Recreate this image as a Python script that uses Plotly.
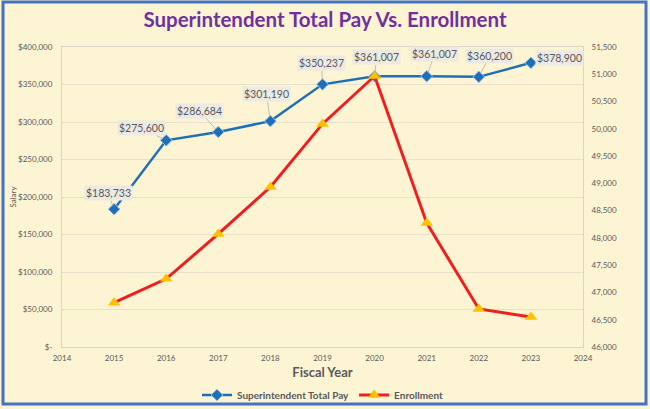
import plotly.graph_objects as go

years = [2015, 2016, 2017, 2018, 2019, 2020, 2021, 2022, 2023]
salary = [183733, 275600, 286684, 301190, 350237, 361007, 361007, 360200, 378900]
enrollment = [46812, 47250, 48072, 48933, 50090, 50968, 48275, 46697, 46550]

salary_ticks = [0, 50000, 100000, 150000, 200000, 250000, 300000, 350000, 400000]
salary_ticktext = ["$-", "$50,000", "$100,000", "$150,000", "$200,000", "$250,000",
                   "$300,000", "$350,000", "$400,000"]
enroll_ticks = list(range(46000, 51501, 500))
enroll_ticktext = [f"{v:,}" for v in enroll_ticks]
year_ticks = list(range(2014, 2025))

# label offsets (px) for the data callouts
label_ax = [-6, -25, -19, -4, -1, 2, 8, 11, 29]
label_ay = [-16, -12, -21, -27, -21, -19, -22, -21, -5]

FONT = "Lato"
GRAY = "#595959"
BG = "#FDF4D4"

fig = go.Figure()
fig.add_trace(go.Scatter(
    x=years, y=salary, name="<b>Superintendent Total Pay</b>", mode="lines+markers",
    line=dict(color="#1F6FB8", width=2.5),
    marker=dict(symbol="diamond", size=9, color="#1F6FB8",
                line=dict(color="#9CC3E6", width=1)),
    yaxis="y"))
fig.add_trace(go.Scatter(
    x=years, y=enrollment, name="<b>Enrollment</b>", mode="lines+markers",
    line=dict(color="#F01E1E", width=3),
    marker=dict(symbol="triangle-up", size=11, color="#FFC000"),
    yaxis="y2"))

annotations = []
for x, y, ax, ay in zip(years, salary, label_ax, label_ay):
    annotations.append(dict(
        x=x, y=y, xref="x", yref="y", text=f"${y:,}",
        showarrow=True, arrowhead=0, arrowwidth=0.7, arrowcolor="#A6A6A6",
        ax=ax, ay=ay, standoff=4,
        bgcolor="#ECEAE2", borderpad=1,
        font=dict(family=FONT, size=10.5, color=GRAY)))

fig.update_layout(
    width=650, height=409,
    margin=dict(l=62, r=67, t=47, b=62),
    paper_bgcolor=BG, plot_bgcolor=BG,
    title=dict(text="<b>Superintendent Total Pay Vs. Enrollment</b>",
               x=0.5, xanchor="center", y=0.951, yanchor="middle",
               font=dict(family=FONT, size=20.5, color="#7030A0")),
    font=dict(family=FONT, color=GRAY),
    xaxis=dict(range=[2014, 2024], tickvals=year_ticks,
               tickfont=dict(size=8, color=GRAY), automargin=False,
               ticklabelstandoff=3,
               showgrid=False, zeroline=False,
               showline=True, linecolor="#D9D6C8", mirror=True,
               title=dict(text="<b>Fiscal Year</b>", standoff=8,
                          font=dict(family=FONT, size=13, color=GRAY))),
    yaxis=dict(range=[0, 400000], tickvals=salary_ticks, ticktext=salary_ticktext,
               tickfont=dict(size=8, color=GRAY), automargin=False,
               ticklabelstandoff=7,
               showgrid=True, gridcolor="#E6E1CC", gridwidth=1, zeroline=False,
               showline=True, linecolor="#D9D6C8", ticks="", ticklen=0,
               title=dict(text="Salary", standoff=0,
                          font=dict(family=FONT, size=8, color=GRAY))),
    yaxis2=dict(range=[46000, 51500], tickvals=enroll_ticks, ticktext=enroll_ticktext,
                overlaying="y", side="right", automargin=False,
                ticklabelstandoff=6,
                tickfont=dict(size=8, color=GRAY),
                showgrid=False, zeroline=False,
                showline=True, linecolor="#D9D6C8"),
    legend=dict(orientation="h", x=0.5, xanchor="center",
                yref="container", y=1 - 395 / 409, yanchor="middle",
                font=dict(family=FONT, size=10, color=GRAY),
                bgcolor="rgba(0,0,0,0)", itemwidth=30),
    annotations=annotations,
    shapes=[dict(type="rect", xref="paper", yref="paper",
                 x0=-59/521, x1=1 + 63/521, y0=-57/300, y1=1 + 45/300,
                 line=dict(color="#4472C4", width=3), fillcolor="rgba(0,0,0,0)",
                 layer="above")],
)

post = ("document.body.style.margin='0';"
        "document.body.style.background='#EDEDED';"
        "document.documentElement.style.height='409px';"
        "document.documentElement.style.overflow='hidden';"
        "document.body.style.height='409px';"
        "document.body.style.overflow='hidden';")
fig.write_html("out.html", config={"displayModeBar": False}, post_script=post)
